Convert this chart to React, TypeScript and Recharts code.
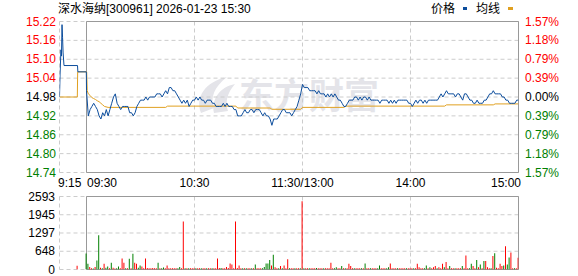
import React from 'react';
import {
  LineChart,
  Line,
  XAxis,
  YAxis,
  CartesianGrid,
  ReferenceArea,
  BarChart,
  Bar,
  Cell,
} from 'recharts';

const FONT = "'Liberation Sans', Arial, 'Noto Sans CJK SC', sans-serif";

const titleText = '深水海纳[300961] 2026-01-23 15:30';
const legendNames = ['价格', '均线'];
const watermarkText = '东方财富';
const prevClose = 14.98;

const timeTicks = [0, 15, 75, 135, 195, 255];
const timeLabels = ['9:15', '09:30', '10:30', '11:30/13:00', '14:00', '15:00'];

const priceTicks = [14.74, 14.8, 14.86, 14.92, 14.98, 15.04, 15.1, 15.16, 15.22];
const priceLabels = ['14.74', '14.80', '14.86', '14.92', '14.98', '15.04', '15.10', '15.16', '15.22'];
const pctLabels = ['1.57%', '1.18%', '0.79%', '0.39%', '0.00%', '0.39%', '0.79%', '1.18%', '1.57%'];

const volTicks = [0, 648, 1297, 1945, 2593];
const volLabels = ['0', '648', '1297', '1945', '2593'];

// pre-market (9:15-9:30) auction price path, minute offsets from 9:15
const preTimes = [0, 0.3, 0.8, 1.1, 1.4, 1.7, 2.0, 2.5, 10.0, 10.2, 14.9];
const prePrices = [14.98, 15.05, 15.13, 15.11, 15.21, 15.17, 15.12, 15.08, 15.08, 15.06, 15.06];

// minute prices 9:30 .. 15:00 (241 points), starting at minute offset 15
const openMinute = 15;
const minutePrices = [
  15.0, 14.92, 14.94, 14.95, 14.96, 14.95, 14.94, 14.92, 14.91, 14.93,
  14.92, 14.94, 14.92, 14.94, 14.96, 14.98, 14.99, 14.96, 14.95, 14.94,
  14.95, 14.95, 14.95, 14.95, 14.93, 14.93, 14.92, 14.93, 14.95, 14.96,
  14.97, 14.97, 14.97, 14.98, 14.97, 14.98, 14.98, 14.98, 14.98, 14.99,
  14.99, 14.99, 14.98, 14.99, 15.0, 14.99, 15.01, 15.01, 15.0, 15.0,
  14.99, 14.98, 14.97, 14.96, 14.97, 14.96, 14.97, 14.95, 14.96, 14.97,
  14.97, 14.98, 14.97, 14.98, 14.97, 14.97, 14.96, 14.97, 14.97, 14.97,
  14.96, 14.96, 14.95, 14.95, 14.95, 14.95, 14.96, 14.95, 14.96, 14.95,
  14.95, 14.95, 14.94, 14.94, 14.92, 14.92, 14.92, 14.93, 14.94, 14.93,
  14.93, 14.94, 14.94, 14.93, 14.94, 14.94, 14.94, 14.93, 14.92, 14.93,
  14.92, 14.92, 14.91, 14.89, 14.91, 14.91, 14.91, 14.92, 14.93, 14.94,
  14.94, 14.93, 14.93, 14.93, 14.92, 14.93, 14.94, 14.95, 14.97, 14.99,
  15.02, 15.01, 15.01, 15.01, 15.0, 15.0, 15.0, 15.0, 14.99, 15.0,
  14.99, 14.99, 14.99, 14.98, 14.99, 14.98, 14.99, 14.98, 14.99, 14.98,
  14.97, 14.97, 14.96, 14.95, 14.95, 14.96, 14.97, 14.97, 14.97, 14.98,
  14.98, 14.97, 14.98, 14.97, 14.98, 14.98, 14.97, 14.98, 14.97, 14.97,
  14.97, 14.97, 14.97, 14.96, 14.97, 14.97, 14.97, 14.97, 14.96, 14.97,
  14.96, 14.97, 14.96, 14.97, 14.97, 14.97, 14.97, 14.97, 14.97, 14.96,
  14.96, 14.95, 14.96, 14.97, 14.96, 14.97, 14.97, 14.96, 14.97, 14.96,
  14.97, 14.97, 14.97, 14.97, 14.97, 14.97, 14.98, 14.99, 14.98, 14.99,
  15.0, 14.99, 14.99, 14.99, 14.99, 14.98, 14.99, 14.99, 14.98, 14.97,
  14.99, 14.99, 14.98, 14.97, 14.97, 14.96, 14.96, 14.97, 14.96, 14.96,
  14.96, 14.97, 14.97, 14.98, 14.99, 14.99, 15.0, 14.99, 14.99, 14.99,
  14.99, 14.98, 14.98, 14.97, 14.97, 14.96, 14.96, 14.96, 14.96, 14.97,
  14.97,
];

// average price line (change points)
const avgTimes = [0, 9.9, 10.1, 15.1, 15.4, 16, 17, 18, 19, 20, 21, 22, 23, 24, 25, 27, 59, 60, 98, 99, 117, 118, 134, 135, 158, 159, 214, 215, 241, 242, 255];
const avgValues = [14.98, 14.98, 15.06, 15.06, 15.0, 14.99, 14.985, 14.978, 14.975, 14.972, 14.968, 14.965, 14.96, 14.955, 14.95, 14.947, 14.947, 14.951, 14.951, 14.945, 14.945, 14.941, 14.941, 14.947, 14.947, 14.951, 14.951, 14.955, 14.955, 14.958, 14.958];

// volumes
const preVolTimes = [10];
const preVolumes = [130];
const preVolDirs = 'r';
const minuteVolumes = [
  570, 200, 85, 40, 35, 90, 320, 1220, 60, 40,
  200, 60, 110, 40, 240, 60, 35, 40, 110, 40,
  395, 240, 40, 40, 380, 40, 560, 240, 200, 60,
  145, 110, 40, 395, 50, 45, 40, 50, 45, 40,
  240, 40, 45, 70, 40, 145, 40, 45, 40, 40,
  40, 45, 90, 40, 1705, 40, 45, 40, 40, 45,
  40, 40, 45, 40, 40, 45, 40, 40, 45, 40,
  40, 45, 40, 395, 50, 50, 40, 45, 90, 50,
  215, 180, 40, 1705, 50, 145, 40, 45, 40, 40,
  40, 45, 40, 40, 180, 45, 40, 40, 45, 90,
  215, 215, 335, 145, 525, 80, 40, 45, 120, 40,
  145, 40, 360, 45, 40, 40, 45, 40, 40, 45,
  2420, 40, 40, 45, 40, 40, 45, 40, 50, 40,
  40, 45, 40, 40, 45, 40, 240, 40, 45, 80,
  40, 45, 120, 40, 40, 45, 200, 120, 40, 40,
  40, 45, 40, 40, 40, 215, 45, 40, 40, 45,
  40, 40, 45, 145, 40, 40, 45, 40, 80, 215,
  40, 45, 40, 40, 45, 40, 40, 45, 40, 40,
  40, 45, 40, 40, 200, 80, 40, 45, 40, 145,
  40, 80, 40, 80, 120, 40, 80, 40, 200, 80,
  265, 45, 120, 40, 40, 45, 40, 40, 45, 120,
  40, 500, 40, 45, 200, 120, 40, 335, 80, 180,
  40, 300, 300, 80, 40, 45, 477, 573, 60, 40,
  200, 120, 145, 823, 180, 430, 600, 45, 40, 45,
  420,
];
const minuteVolDirs =
  'ggrrgrggrg' + 'rggrgrrggr' + 'rrgrgrgrrg' + 'grrrrrrrrr' + 'grggrrrrrr' +
  'rggrrgrgrr' + 'rgrrgrrgrr' + 'grrrrgrrrr' + 'rrrrrrrgrg' + 'rrgrgrrrgg' +
  'gggrgrrgrg' + 'rrrgrrgrrg' + 'rgrrgrrrgr' + 'rrgrrrrrgg' + 'rrgrgrrrrg' +
  'rrrgrgrrgr' + 'rrggrrrggr' + 'rrrgrrrrgr' + 'rrgrrrrrgg' + 'rgrrrgrrrg' +
  'rrgrrgrrrg' + 'rrrggrrgrg' + 'rgrrrgrgrr' + 'rrgrggrrgr' + 'r';

const BLUE = '#0c4d9c';
const GOLD = '#e0a020';
const RED = '#ff0000';
const GREEN = '#008000';
const GRID = '#cccccc';
const FRAME = '#999999';

const priceData = preTimes
  .map((t, i) => ({ t, p: prePrices[i] }))
  .concat(minutePrices.map((p, i) => ({ t: openMinute + i, p })));
const avgData = avgTimes.map((t, i) => ({ t, a: avgValues[i] }));
const volData = preVolTimes
  .map((t, i) => ({ t, v: preVolumes[i], c: preVolDirs[i] }))
  .concat(minuteVolumes.map((v, i) => ({ t: openMinute + i, v, c: minuteVolDirs[i] })));

const TimeTick = (props: any) => {
  const { x, y, payload } = props;
  const i = timeTicks.indexOf(payload.value);
  const last = timeTicks.length - 1;
  const anchor = i <= 1 ? 'start' : i === last ? 'end' : 'middle';
  const dx = i === 0 ? -1.5 : i === 1 ? 0.5 : i === last ? 2.5 : 0;
  return (
    <text x={x + dx} y={y + 14} textAnchor={anchor} fontSize={12} fontFamily={FONT} fill="#000">
      {timeLabels[i]}
    </text>
  );
};

const colorFor = (v: number) => (v > prevClose ? RED : v < prevClose ? GREEN : '#000');

const PriceTick = (props: any) => {
  const { x, y, payload } = props;
  const i = priceTicks.indexOf(payload.value);
  return (
    <text x={x - 3.5} y={y + 4} textAnchor="end" fontSize={12} fontFamily={FONT} fill={colorFor(payload.value)}>
      {priceLabels[i]}
    </text>
  );
};

const PctTick = (props: any) => {
  const { x, y, payload } = props;
  const i = priceTicks.indexOf(payload.value);
  return (
    <text x={x + 6.5} y={y + 4} textAnchor="start" fontSize={12} fontFamily={FONT} fill={colorFor(payload.value)}>
      {pctLabels[i]}
    </text>
  );
};

const VolTick = (props: any) => {
  const { x, y, payload } = props;
  const i = volTicks.indexOf(payload.value);
  return (
    <text x={x - 4.5} y={y + 4} textAnchor="end" fontSize={12} fontFamily={FONT} fill="#000">
      {volLabels[i]}
    </text>
  );
};

export default function App() {
  return (
    <div
      style={{
        position: 'absolute',
        left: 0,
        top: 0,
        width: 578,
        height: 276,
        background: '#fff',
        fontFamily: FONT,
        overflow: 'hidden',
      }}
    >
      {/* watermark */}
      <svg style={{ position: 'absolute', left: 0, top: 0 }} width={578} height={276}>
        <path d="M201 113 C195 97 205 82 227 77 C214 87 210 98 214 108 Z" fill="#e4e4e9" />
        <path d="M214 113 C211 99 220 87 235 84 C227 93 225 102 228 111 Z" fill="#e4e4e9" />
      </svg>
      <div
        style={{
          position: 'absolute',
          left: 239,
          top: 74,
          fontSize: 35,
          lineHeight: '40px',
          fontWeight: 700,
          color: '#e4e4e9',
          fontFamily: "'Noto Sans CJK SC', sans-serif",
          letterSpacing: 0,
          whiteSpace: 'nowrap',
        }}
      >
        {watermarkText}
      </div>

      {/* title */}
      <div
        style={{
          position: 'absolute',
          left: 58,
          top: 2,
          fontSize: 12,
          lineHeight: '14px',
          color: '#000',
          whiteSpace: 'nowrap',
        }}
      >
        {titleText}
      </div>

      {/* legend */}
      <div style={{ position: 'absolute', left: 431, top: 2, fontSize: 12, lineHeight: '14px', color: '#000' }}>
        {legendNames[0]}
      </div>
      <div style={{ position: 'absolute', left: 463, top: 7, width: 4, height: 3, background: BLUE }} />
      <div style={{ position: 'absolute', left: 476, top: 2, fontSize: 12, lineHeight: '14px', color: '#000' }}>
        {legendNames[1]}
      </div>
      <div style={{ position: 'absolute', left: 508, top: 7, width: 5, height: 3, background: GOLD }} />

      {/* price chart */}
      <div style={{ position: 'absolute', left: 0, top: 0 }}>
        <LineChart width={578} height={193} margin={{ top: 21.5, right: 0, bottom: 0, left: 0 }}>
          <CartesianGrid yAxisId="left" stroke={GRID} strokeDasharray="4 3" />
          <XAxis
            dataKey="t"
            type="number"
            domain={[0, 255]}
            ticks={timeTicks}
            interval={0}
            allowDataOverflow
            axisLine={false}
            tickLine={false}
            tickSize={0}
            tickMargin={0}
            height={20.5}
            tick={(p: any) => <TimeTick {...p} />}
          />
          <YAxis
            yAxisId="left"
            type="number"
            domain={[14.74, 15.22]}
            ticks={priceTicks}
            interval={0}
            allowDataOverflow
            width={59.5}
            axisLine={false}
            tickLine={false}
            tickSize={0}
            tickMargin={0}
            tick={(p: any) => <PriceTick {...p} />}
          />
          <YAxis
            yAxisId="right"
            orientation="right"
            type="number"
            domain={[14.74, 15.22]}
            ticks={priceTicks}
            interval={0}
            allowDataOverflow
            width={59.5}
            axisLine={false}
            tickLine={false}
            tickSize={0}
            tickMargin={0}
            tick={(p: any) => <PctTick {...p} />}
          />
          <ReferenceArea yAxisId="left" x1={15} x2={255} y1={14.74} y2={15.22} fill="none" stroke={FRAME} strokeWidth={1} />
          <Line
            yAxisId="left"
            data={avgData}
            dataKey="a"
            type="linear"
            stroke={GOLD}
            strokeWidth={1}
            dot={false}
            activeDot={false}
            isAnimationActive={false}
          />
          <Line
            yAxisId="left"
            data={priceData}
            dataKey="p"
            type="linear"
            stroke={BLUE}
            strokeWidth={1}
            dot={false}
            activeDot={false}
            isAnimationActive={false}
          />
        </LineChart>
      </div>

      {/* volume chart */}
      <div style={{ position: 'absolute', left: 0, top: 183 }}>
        <BarChart width={578} height={93} data={volData} margin={{ top: 13.5, right: 59.5, bottom: 6.5, left: 0 }}>
          <CartesianGrid stroke={GRID} strokeDasharray="4 3" />
          <XAxis dataKey="t" type="number" domain={[0, 255]} ticks={timeTicks} interval={0} allowDataOverflow hide />
          <YAxis
            type="number"
            domain={[0, 2593]}
            ticks={volTicks}
            interval={0}
            allowDataOverflow
            width={59.5}
            axisLine={false}
            tickLine={false}
            tickSize={0}
            tickMargin={0}
            tick={(p: any) => <VolTick {...p} />}
          />
          <ReferenceArea x1={15} x2={255} y1={0} y2={2593} fill="none" stroke={FRAME} strokeWidth={1} />
          <Bar dataKey="v" barSize={1} isAnimationActive={false}>
            {volData.map((d, i) => (
              <Cell key={i} fill={d.c === 'r' ? RED : GREEN} />
            ))}
          </Bar>
        </BarChart>
      </div>
    </div>
  );
}
